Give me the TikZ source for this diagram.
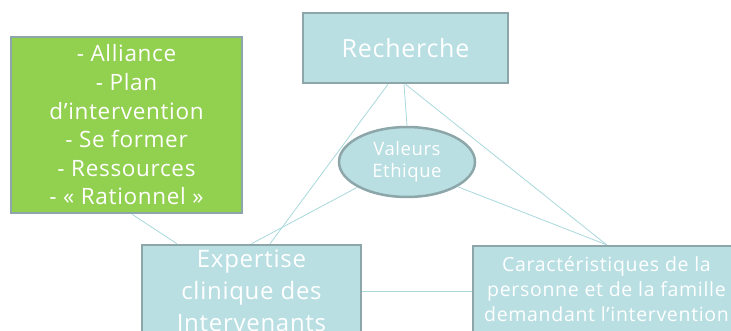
\documentclass[tikz,border=0pt]{standalone}
\usepackage{fontspec}
\setmainfont{Open Sans}
\newfontfamily\spaced[LetterSpace=3]{Open Sans}
\newfontfamily\spacedb[LetterSpace=3.5]{Open Sans}
\usetikzlibrary{shapes.geometric}
\definecolor{boxfill}{HTML}{B9DFE3}
\definecolor{boxline}{HTML}{8CA6A9}
\definecolor{conn}{HTML}{A8D8DC}
\definecolor{greenfill}{HTML}{92D050}
\begin{document}
\begin{tikzpicture}[x=1pt,y=-1pt,
  tbox/.style={draw=boxline,line width=2.5pt,fill=boxfill,text=white,align=center,inner sep=0pt},
  gbox/.style={draw=boxline,line width=2.5pt,fill=greenfill,text=white,align=center,inner sep=0pt},
  link/.style={draw=conn,line width=0.8pt}]
\useasboundingbox (0,0) rectangle (731,331);
\clip (0,0) rectangle (731,331);
\node[tbox,minimum width=205pt,minimum height=70pt,font=\spaced\fontsize{25}{28}\selectfont] (rech) at (405.5,48) {Recherche};
\node[gbox,minimum width=231pt,minimum height=176pt,font=\spaced\fontsize{22.5}{28.6}\selectfont] (green) at (126.5,125) {- Alliance\\- Plan\\d’intervention\\- Se former\\- Ressources\\- « Rationnel »};
\node[tbox,minimum width=219pt,minimum height=92pt,font=\spaced\fontsize{24}{32}\selectfont] (exp) at (251.5,291) {Expertise\\clinique des\\Intervenants};
\node[tbox,minimum width=267pt,minimum height=86pt,font=\spacedb\fontsize{19.5}{25}\selectfont] (car) at (606.5,289) {Caractéristiques de la\\personne et de la famille\\demandant l’intervention};
\node[tbox,ellipse,minimum width=136pt,minimum height=70pt,font=\spaced\fontsize{18.5}{22}\selectfont] (ell) at (407,162) {Valeurs\\Ethique};
\path[link] ([xshift=-17.5pt]rech.south) -- ([xshift=18.5pt]exp.north);
\path[link] (rech.south) -- (car.north);
\path[link] ([xshift=-1.5pt]rech.south) -- (ell.north);
\path[link] (ell.207) -- (exp.north);
\path[link] (ell.334) -- (car.north);
\path[link] ([xshift=5.5pt]green.south) -- ([xshift=-74.5pt]exp.north);
\path[link] (exp.east) -- (exp.east -| car.west);
\end{tikzpicture}
\end{document}
